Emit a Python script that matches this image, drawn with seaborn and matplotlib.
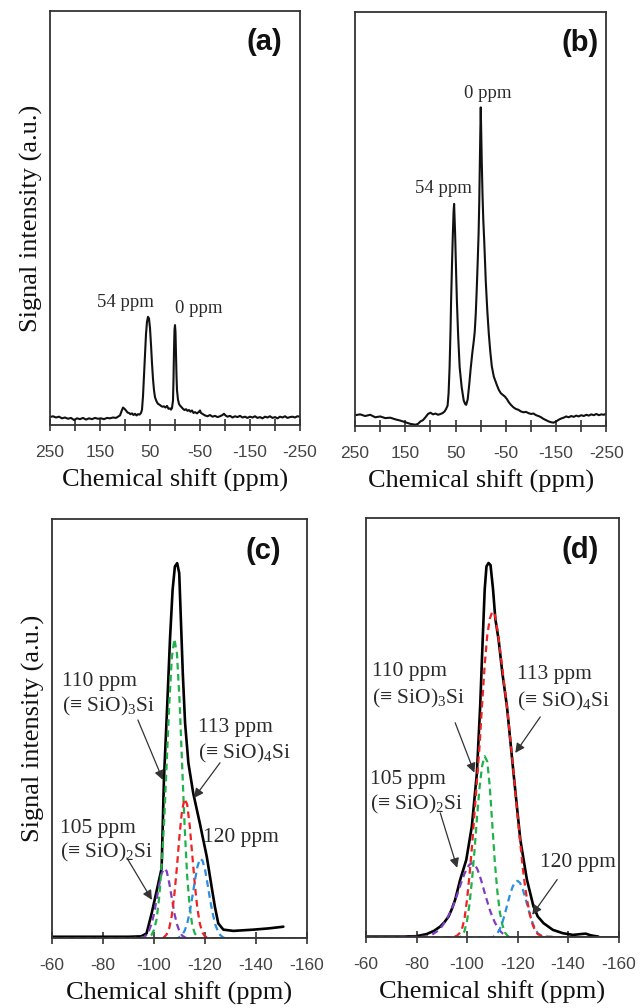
import numpy as np
import pandas as pd
import matplotlib
matplotlib.use("Agg")
import matplotlib.pyplot as plt
import seaborn as sns

# --- Spectrum (a): chemical shift (ppm) vs signal intensity (a.u.) ---
shift_a = [250, 244, 238, 232, 226, 220, 214, 208, 202, 196, 190, 184, 178, 172, 166, 160,
           154, 148, 142, 136, 130, 124, 118, 114, 110, 107, 104, 101, 98, 95, 92, 89, 86,
           83, 80, 77, 74, 71, 68, 66, 64, 62, 60, 58, 56, 54, 52, 50, 48, 46, 44, 42, 40,
           37, 34, 31, 28, 25, 22, 19, 16, 13, 10, 8, 6, 4, 3, 2, 1, 0, -1, -2, -3, -4, -6,
           -8, -10, -13, -16, -19, -22, -25, -28, -31, -34, -37, -40, -44, -48, -50, -52,
           -56, -60, -65, -70, -75, -80, -85, -90, -95, -98, -101, -105, -110, -115, -120,
           -125, -130, -135, -140, -145, -150, -155, -160, -165, -170, -175, -180, -185,
           -190, -195, -200, -205, -210, -215, -220, -225, -230, -235, -240, -245, -250]
int_a = [0.020, 0.022, 0.019, 0.021, 0.017, 0.019, 0.016, 0.018, 0.013, 0.017, 0.015, 0.018,
         0.014, 0.017, 0.015, 0.018, 0.016, 0.017, 0.015, 0.018, 0.017, 0.019, 0.018, 0.021,
         0.024, 0.034, 0.043, 0.040, 0.036, 0.031, 0.030, 0.027, 0.029, 0.025, 0.028, 0.024,
         0.027, 0.026, 0.030, 0.038, 0.070, 0.120, 0.175, 0.220, 0.250, 0.262, 0.258, 0.235,
         0.195, 0.150, 0.112, 0.085, 0.068, 0.058, 0.052, 0.050, 0.047, 0.045, 0.046, 0.043,
         0.047, 0.040, 0.041, 0.038, 0.042, 0.060, 0.110, 0.180, 0.230, 0.242, 0.225, 0.170,
         0.120, 0.085, 0.062, 0.052, 0.048, 0.044, 0.040, 0.037, 0.039, 0.035, 0.037, 0.033,
         0.036, 0.030, 0.032, 0.029, 0.033, 0.036, 0.030, 0.027, 0.024, 0.022, 0.025, 0.021,
         0.023, 0.020, 0.022, 0.025, 0.028, 0.024, 0.021, 0.023, 0.019, 0.022, 0.020, 0.023,
         0.019, 0.021, 0.018, 0.021, 0.019, 0.022, 0.018, 0.020, 0.017, 0.021, 0.019, 0.022,
         0.018, 0.020, 0.017, 0.021, 0.019, 0.022, 0.018, 0.020, 0.021, 0.019, 0.022, 0.021]

# --- Spectrum (b) ---
shift_b = [250, 240, 230, 220, 210, 200, 190, 180, 170, 160, 150, 140, 130, 125, 120, 115,
           110, 105, 100, 95, 90, 85, 80, 76, 72, 69, 66, 64, 62, 60, 59, 57, 55.5, 54, 53,
           52, 51, 49, 47.5, 45, 42, 38, 34, 31, 29, 26, 23, 20, 17, 14, 12, 10, 8, 6, 4.3, 3,
           2, 1, 0, -1, -2, -3.5, -5, -7, -10, -13, -16, -19, -22, -26, -32, -36, -40, -44,
           -48, -52, -56, -60, -65, -70, -75, -80, -85, -90, -95, -100, -105, -110, -115,
           -120, -125, -130, -135, -140, -145, -150, -155, -160, -165, -170, -175, -180,
           -185, -190, -195, -200, -205, -210, -215, -220, -225, -230, -235, -240, -245, -250]
int_b = [0.027, 0.029, 0.025, 0.028, 0.022, 0.024, 0.020, 0.021, 0.017, 0.014, 0.010, 0.006,
         0.004, 0.006, 0.012, 0.015, 0.022, 0.030, 0.033, 0.029, 0.031, 0.028, 0.030, 0.032,
         0.036, 0.042, 0.050, 0.080, 0.143, 0.240, 0.304, 0.400, 0.465, 0.520, 0.537, 0.500,
         0.465, 0.370, 0.304, 0.220, 0.143, 0.095, 0.063, 0.054, 0.052, 0.065, 0.100, 0.140,
         0.175, 0.205, 0.228, 0.270, 0.330, 0.400, 0.465, 0.540, 0.620, 0.700, 0.770, 0.705,
         0.640, 0.560, 0.500, 0.445, 0.350, 0.280, 0.224, 0.180, 0.145, 0.120, 0.100, 0.088,
         0.080, 0.076, 0.072, 0.066, 0.058, 0.052, 0.046, 0.042, 0.040, 0.036, 0.034, 0.035,
         0.032, 0.030, 0.031, 0.027, 0.025, 0.022, 0.018, 0.015, 0.012, 0.010, 0.009, 0.012,
         0.016, 0.019, 0.021, 0.024, 0.022, 0.025, 0.023, 0.026, 0.024, 0.027, 0.025, 0.028,
         0.026, 0.029, 0.027, 0.030, 0.027, 0.029, 0.028, 0.031]

# --- Deconvolution (c): envelope and four components ---
shift_c = [-60, -70, -80, -90, -95, -97.1, -99.1, -101.1, -103.0, -103.9, -105.0, -106.3,
           -107.3, -108.2, -109.1, -109.9, -110.6, -111.3, -112.2, -113.5, -115.4, -118.0,
           -120.7, -122.6, -123.9, -125.2, -127.2, -131.1, -139.0, -145.0, -150.7]
env_c = [0.004, 0.004, 0.004, 0.004, 0.005, 0.012, 0.060, 0.115, 0.167, 0.378, 0.529, 0.716,
         0.831, 0.887, 0.895, 0.871, 0.752, 0.632, 0.513, 0.418, 0.346, 0.274, 0.195, 0.123,
         0.075, 0.036, 0.021, 0.018, 0.021, 0.024, 0.028]

comp_shift_c = [-60, -90, -96, -97, -98, -99, -100, -101, -102, -103, -104, -105, -106, -107,
                -108, -109, -110, -111, -112, -113, -114, -115, -116, -117, -118, -119, -120,
                -121, -122, -123, -124, -125, -126, -127, -128, -130, -140, -160]
green_c = [0, 0, 0, 0, 0.003, 0.008, 0.020, 0.045, 0.095, 0.170, 0.280, 0.420, 0.560, 0.670,
           0.714, 0.680, 0.570, 0.420, 0.270, 0.150, 0.075, 0.032, 0.012, 0.004, 0, 0, 0, 0,
           0, 0, 0, 0, 0, 0, 0, 0, 0, 0]
red_c = [0, 0, 0, 0, 0, 0, 0, 0, 0, 0, 0.003, 0.010, 0.025, 0.055, 0.105, 0.170, 0.245, 0.305,
         0.333, 0.320, 0.270, 0.200, 0.130, 0.072, 0.035, 0.014, 0.005, 0.002, 0, 0, 0, 0, 0,
         0, 0, 0, 0, 0]
purple_c = [0, 0, 0.003, 0.008, 0.018, 0.034, 0.058, 0.092, 0.126, 0.155, 0.167, 0.160, 0.132,
            0.096, 0.060, 0.034, 0.017, 0.007, 0.003, 0, 0, 0, 0, 0, 0, 0, 0, 0, 0, 0, 0, 0,
            0, 0, 0, 0, 0, 0]
blue_c = [0, 0, 0, 0, 0, 0, 0, 0, 0, 0, 0, 0, 0, 0, 0, 0, 0.003, 0.008, 0.018, 0.035, 0.062,
          0.098, 0.136, 0.170, 0.190, 0.186, 0.165, 0.130, 0.092, 0.060, 0.034, 0.018, 0.008,
          0.003, 0, 0, 0, 0]

# --- Deconvolution (d) ---
shift_d = [-60, -75, -80, -84, -87, -89.4, -91, -92.7, -94, -95.3, -97.3, -99.7, -101.9,
           -103.9, -105.2, -106.2, -107.0, -107.7, -108.5, -109.3, -110.3, -111.2, -112.5,
           -114.0, -115.8, -118.4, -121.1, -123.7, -126.3, -128, -130.3, -134, -138, -142,
           -145, -147, -149, -152]
env_d = [0.002, 0.002, 0.003, 0.008, 0.016, 0.026, 0.036, 0.050, 0.068, 0.090, 0.138, 0.185,
         0.265, 0.392, 0.551, 0.710, 0.830, 0.885, 0.893, 0.888, 0.830, 0.760, 0.710, 0.630,
         0.551, 0.392, 0.233, 0.138, 0.074, 0.050, 0.034, 0.018, 0.010, 0.006, 0.008, 0.009,
         0.005, 0.002]

comp_shift_d = [-60, -84, -86, -88, -90, -92, -94, -96, -97, -98, -99, -100, -101, -102, -103,
                -104, -105, -106, -107, -108, -109, -110, -111, -112, -113, -114, -115, -116,
                -117, -118, -119, -120, -121, -122, -123, -124, -125, -126, -127, -128, -130,
                -140, -160]
red_d = [0, 0, 0, 0, 0, 0, 0, 0.004, 0.010, 0.020, 0.045, 0.090, 0.150, 0.220, 0.300, 0.380,
         0.460, 0.560, 0.650, 0.720, 0.760, 0.777, 0.770, 0.735, 0.690, 0.640, 0.590, 0.540,
         0.480, 0.420, 0.355, 0.290, 0.230, 0.170, 0.120, 0.082, 0.052, 0.030, 0.016, 0.008,
         0.002, 0, 0]
green_d = [0, 0, 0, 0, 0, 0, 0, 0, 0, 0.005, 0.015, 0.040, 0.080, 0.140, 0.210, 0.290, 0.360,
           0.410, 0.432, 0.420, 0.360, 0.270, 0.180, 0.110, 0.060, 0.030, 0.012, 0.004, 0, 0,
           0, 0, 0, 0, 0, 0, 0, 0, 0, 0, 0, 0, 0]
purple_d = [0, 0.002, 0.006, 0.014, 0.026, 0.044, 0.068, 0.100, 0.118, 0.136, 0.152, 0.165,
            0.174, 0.177, 0.174, 0.164, 0.148, 0.128, 0.106, 0.086, 0.066, 0.050, 0.036, 0.025,
            0.016, 0.010, 0.005, 0.002, 0, 0, 0, 0, 0, 0, 0, 0, 0, 0, 0, 0, 0, 0, 0]
blue_d = [0, 0, 0, 0, 0, 0, 0, 0, 0, 0, 0, 0, 0, 0, 0, 0, 0, 0, 0, 0, 0, 0, 0.004, 0.010,
          0.020, 0.036, 0.056, 0.080, 0.102, 0.120, 0.132, 0.135, 0.130, 0.116, 0.096, 0.074,
          0.052, 0.034, 0.020, 0.010, 0.002, 0, 0]

# --- Text ---
x_label = "Chemical shift (ppm)"
y_label = "Signal intensity (a.u.)"
ticks_wide = [250, 200, 150, 100, 50, 0, -50, -100, -150, -200, -250]
tick_labels_wide = ["250", "", "150", "", "50", "", "-50", "", "-150", "", "-250"]
ticks_narrow = [-60, -80, -100, -120, -140, -160]
tick_labels_narrow = ["-60", "-80", "-100", "-120", "-140", "-160"]

sns.set_theme(style="white")
SERIF = ['Liberation Serif', 'DejaVu Serif']
plt.rcParams['font.family'] = SERIF
plt.rcParams['axes.edgecolor'] = '#333333'
plt.rcParams['mathtext.fontset'] = 'custom'
plt.rcParams['mathtext.rm'] = 'Liberation Serif'
plt.rcParams['mathtext.it'] = 'Liberation Serif:italic'
plt.rcParams['mathtext.default'] = 'regular'

TEXT_C = '#2a2a2a'
COL = {'green': '#1fb24a', 'red': '#ee2222', 'purple': '#7a3fc0', 'blue': '#2a8fe0'}

fig = plt.figure(figsize=(6.41, 10.08), dpi=100)
ax_a = fig.add_axes([0.078, 0.578, 0.390, 0.411])
ax_b = fig.add_axes([0.554, 0.577, 0.392, 0.411])
ax_c = fig.add_axes([0.081, 0.069, 0.398, 0.416])
ax_d = fig.add_axes([0.571, 0.070, 0.394, 0.416])


def style_axes(ax, ticks, labels, xlim, panel, px, ylab):
    ax.set_xlim(*xlim)
    ax.set_ylim(0, 1)
    ax.set_yticks([])
    ax.set_xticks(ticks)
    ax.set_xticklabels(labels, family='Liberation Sans', fontsize=12.5, color='#444444')
    ax.tick_params(axis='x', direction='inout', length=8, width=1.2, color='#333333', pad=10,
                   bottom=True)
    for s in ax.spines.values():
        s.set_linewidth(1.3)
        s.set_color('#333333')
    ax.set_xlabel(x_label, family=SERIF, fontsize=19, color='#111111', labelpad=6)
    if ylab:
        ax.set_ylabel(y_label, family=SERIF, fontsize=19, color='#111111', labelpad=5)
    ax.text(px, 0.925, panel, transform=ax.transAxes, ha='right', va='center',
            family='Liberation Sans', fontweight='bold', fontsize=21, color='#111111')


# (a)
sns.lineplot(x=shift_a, y=int_a, ax=ax_a, color='#111111', lw=1.5, estimator=None, sort=False)
style_axes(ax_a, ticks_wide, tick_labels_wide, (250, -250), '(a)', 0.93, True)
ax_a.text(100, 0.297, '54 ppm', ha='center', va='center', family=SERIF, fontsize=13.5, color=TEXT_C)
ax_a.text(-48, 0.283, '0 ppm', ha='center', va='center', family=SERIF, fontsize=13.5, color=TEXT_C)

# (b)
sns.lineplot(x=shift_b, y=int_b, ax=ax_b, color='#111111', lw=1.5, estimator=None, sort=False)
style_axes(ax_b, ticks_wide, tick_labels_wide, (250, -250), '(b)', 0.968, False)
ax_b.text(75, 0.574, '54 ppm', ha='center', va='center', family=SERIF, fontsize=13.5, color=TEXT_C)
ax_b.text(-13, 0.804, '0 ppm', ha='center', va='center', family=SERIF, fontsize=13.5, color=TEXT_C)


def draw_deconv(ax, sx, env, csx, comps):
    sns.lineplot(x=sx, y=env, ax=ax, color='#000000', lw=1.9, estimator=None, sort=False)
    for name, vals in comps:
        sns.lineplot(x=csx, y=vals, ax=ax, color=COL[name], lw=1.6, ls=(0, (3, 2)),
                     estimator=None, sort=False)


def arrow(ax, tip, tail):
    ax.annotate('', xy=tip, xytext=tail,
                arrowprops=dict(arrowstyle='-|>', color='#333333', lw=0.9,
                                mutation_scale=14, shrinkA=0, shrinkB=0))


kw = dict(ha='left', va='center', family=SERIF, fontsize=15.5, color=TEXT_C)

# (c)
draw_deconv(ax_c, shift_c, env_c, comp_shift_c,
            [('purple', purple_c), ('green', green_c), ('red', red_c), ('blue', blue_c)])
style_axes(ax_c, ticks_narrow, tick_labels_narrow, (-60, -160), '(c)', 0.90, True)
ax_c.text(-63.9, 0.612, '110 ppm', **kw)
ax_c.text(-63.9, 0.552, r'(≡ SiO)$_3$Si', **kw)
ax_c.text(-117.3, 0.502, '113 ppm', **kw)
ax_c.text(-117.3, 0.442, r'(≡ SiO)$_4$Si', **kw)
ax_c.text(-63.1, 0.263, '105 ppm', **kw)
ax_c.text(-63.1, 0.206, r'(≡ SiO)$_2$Si', **kw)
ax_c.text(-119.2, 0.240, '120 ppm', **kw)
arrow(ax_c, (-103.5, 0.378), (-93.7, 0.521))
arrow(ax_c, (-115.7, 0.335), (-125.9, 0.419))
arrow(ax_c, (-99.2, 0.092), (-89.4, 0.192))

# (d)
draw_deconv(ax_d, shift_d, env_d, comp_shift_d,
            [('purple', purple_d), ('green', green_d), ('blue', blue_d), ('red', red_d)])
style_axes(ax_d, ticks_narrow, tick_labels_narrow, (-60, -160), '(d)', 0.921, False)
ax_d.text(-62.5, 0.634, '110 ppm', **kw)
ax_d.text(-62.5, 0.571, r'(≡ SiO)$_3$Si', **kw)
ax_d.text(-119.9, 0.626, '113 ppm', **kw)
ax_d.text(-119.9, 0.562, r'(≡ SiO)$_4$Si', **kw)
ax_d.text(-61.7, 0.376, '105 ppm', **kw)
ax_d.text(-61.7, 0.316, r'(≡ SiO)$_2$Si', **kw)
ax_d.text(-129.0, 0.178, '120 ppm', **kw)
arrow(ax_d, (-102.9, 0.393), (-95.3, 0.512))
arrow(ax_d, (-119.1, 0.440), (-129.0, 0.526))
arrow(ax_d, (-96.1, 0.166), (-89.4, 0.297))
arrow(ax_d, (-125.8, 0.054), (-135.7, 0.138))

fig.savefig("out.png", dpi=100)
